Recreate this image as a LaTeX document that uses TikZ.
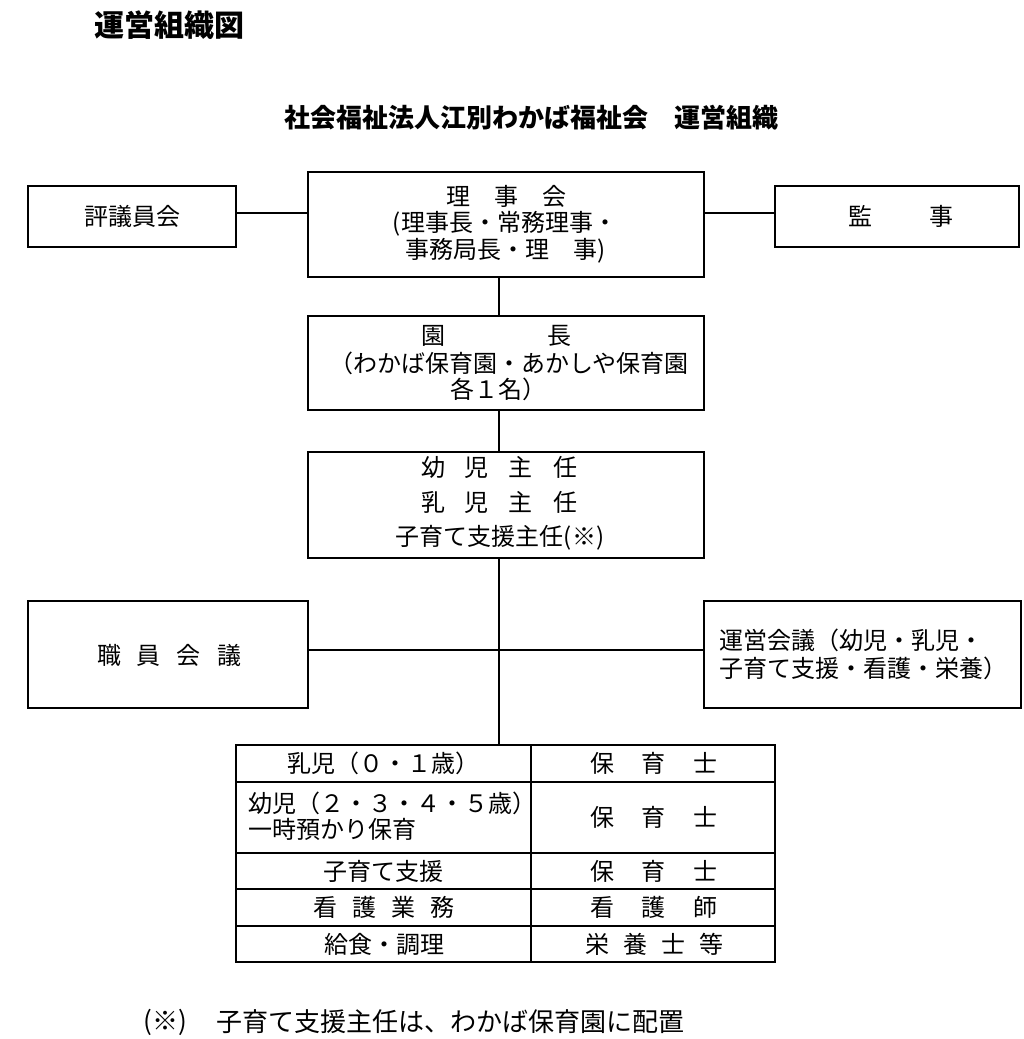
\documentclass[tikz,border=0pt]{standalone}
\usepackage{fontspec}
\setmainfont{Noto Sans CJK JP}
\newcommand{\myfs}[1]{\fontsize{#1}{#1}\selectfont}
\begin{document}
\begin{tikzpicture}[x=1pt,y=-1pt,
  box/.style={draw, line width=2pt, inner sep=0pt, rectangle},
  hconn/.style={line width=1.8pt},
  vconn/.style={line width=1.2pt},
  tline/.style={line width=2pt},
  tx/.style={inner sep=0pt, font={\myfs{24}}},
]
\useasboundingbox[fill=white] (0,0) rectangle (1024,1039);

% titles
\node[tx, font={\myfs{30}\bfseries}] (title) at (169,25) {運営組織図};
\node[tx, font={\myfs{26}\bfseries}] (subtitle) at (531.5,118) {社会福祉法人江別わかば福祉会　運営組織};

% boxes
\node[box, minimum width=208pt, minimum height=61pt] (hyogi) at (132,216.5) {};
\node[box, minimum width=396pt, minimum height=105pt] (riji) at (506,224.5) {};
\node[box, minimum width=244pt, minimum height=61pt] (kanji) at (897,216.5) {};
\node[box, minimum width=396pt, minimum height=94pt] (encho) at (506,363) {};
\node[box, minimum width=396pt, minimum height=106pt] (shunin) at (506,505) {};
\node[box, minimum width=280pt, minimum height=107pt] (shokuin) at (168,654.5) {};
\node[box, minimum width=317pt, minimum height=107pt] (unei) at (862.5,654.5) {};
\node[box, minimum width=539pt, minimum height=217pt] (table) at (505.5,853.5) {};

% texts in boxes
\node[tx] (t-hyogi) at (132,216) {評議員会};
\node[tx] (t-riji1) at (506,196) {理　事　会};
\node[tx] (t-riji2) at (505,224) {(理事長・常務理事・};
\node[tx] (t-riji3) at (506,251) {事務局長・理　事)};
\node[tx] (t-kanji) at (901,216) {監\hspace{58pt}事};
\node[tx] (t-encho1) at (496,336) {園\hspace{102pt}長};
\node[tx] (t-encho2) at (509,363) {（わかば保育園・あかしや保育園};
\node[tx] (t-encho3) at (498,389) {各１名）};
\node[tx] (t-shunin1) at (499,467) {幼\hspace{20pt}児\hspace{20pt}主\hspace{20pt}任};
\node[tx] (t-shunin2) at (499,502) {乳\hspace{20pt}児\hspace{20pt}主\hspace{20pt}任};
\node[tx] (t-shunin3) at (500,538) {子育て支援主任(※)};
\node[tx] (t-shokuin) at (169,655) {職\hspace{16pt}員\hspace{16pt}会\hspace{16pt}議};
\node[tx, anchor=west] (t-unei1) at (719,640) {運営会議（幼児・乳児・};
\node[tx, anchor=west] (t-unei2) at (719,668) {子育て支援・看護・栄養）};

% table grid
\draw[tline] (236,782) -- (775,782);
\draw[tline] (236,853) -- (775,853);
\draw[tline] (236,889) -- (775,889);
\draw[tline] (236,926) -- (775,926);
\draw[tline] (531,745) -- (531,962);

% table texts
\node[tx] (r1l) at (383,763.5) {乳児（０・１歳）};
\node[tx] (r1r) at (654,763.5) {保\hspace{28pt}育\hspace{28pt}士};
\node[tx, anchor=west] (r2l1) at (248,803) {幼児（２・３・４・５歳）};
\node[tx, anchor=west] (r2l2) at (248,829) {一時預かり保育};
\node[tx] (r2r) at (654,817) {保\hspace{28pt}育\hspace{28pt}士};
\node[tx] (r3l) at (383,871) {子育て支援};
\node[tx] (r3r) at (654,871) {保\hspace{28pt}育\hspace{28pt}士};
\node[tx] (r4l) at (384,907.5) {看\hspace{15pt}護\hspace{15pt}業\hspace{15pt}務};
\node[tx] (r4r) at (654,907.5) {看\hspace{28pt}護\hspace{28pt}師};
\node[tx] (r5l) at (384,944) {給食・調理};
\node[tx] (r5r) at (654.5,944) {栄\hspace{14pt}養\hspace{14pt}士\hspace{14pt}等};

% footnote
\node[tx, font={\myfs{26}}] (fn1) at (165,1022) {(※)};
\node[tx, font={\myfs{26}}, anchor=west] (fn2) at (216,1022) {子育て支援主任は、わかば保育園に配置};

% connectors
\coordinate (l1) at (0,213);
\coordinate (l2) at (0,650);
\coordinate (tr) at (499,0);
\draw[hconn] (hyogi.east |- l1) -- (riji.west |- l1);
\draw[hconn] (riji.east |- l1) -- (kanji.west |- l1);
\draw[vconn] (riji.south -| tr) -- (encho.north -| tr);
\draw[vconn] (encho.south -| tr) -- (shunin.north -| tr);
\draw[vconn] (shunin.south -| tr) -- (table.north -| tr);
\draw[hconn] (shokuin.east |- l2) -- (unei.west |- l2);
\end{tikzpicture}
\end{document}
